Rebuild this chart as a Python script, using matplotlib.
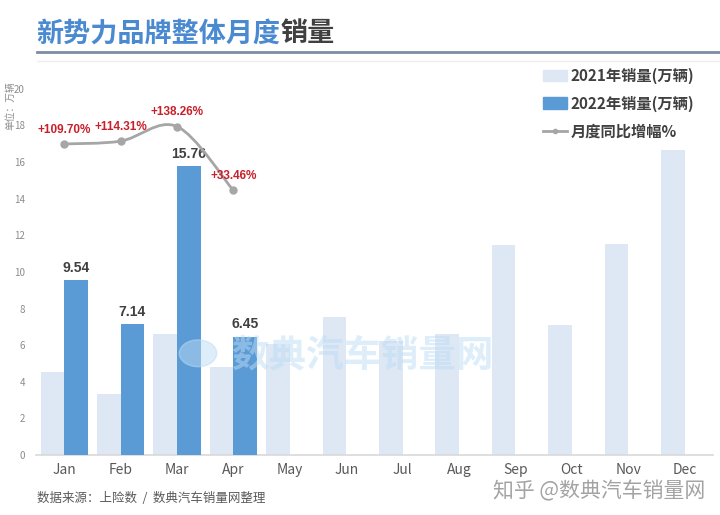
import numpy as np
import matplotlib
matplotlib.use("Agg")
import matplotlib.pyplot as plt
from matplotlib.path import Path
from matplotlib.patches import PathPatch, Patch, Circle
from matplotlib.lines import Line2D

plt.rcParams['font.family'] = ['Noto Sans CJK SC', 'DejaVu Sans']

# data
months = ["Jan", "Feb", "Mar", "Apr", "May", "Jun",
          "Jul", "Aug", "Sep", "Oct", "Nov", "Dec"]
sales_2021 = [4.55, 3.33, 6.61, 4.83, 6.05, 7.56, 6.25, 6.63, 11.46, 7.09, 11.51, 16.65]
sales_2022 = [9.54, 7.14, 15.76, 6.45]
growth_pct = [109.70, 114.31, 138.26, 33.46]
growth_labels = ["+109.70%", "+114.31%", "+138.26%", "+33.46%"]

c21 = "#dde8f4"
c22 = "#5b9bd5"
grey_line = "#a6a6a6"
red = "#c8202a"
dark = "#404040"
latin = ["Liberation Sans", "DejaVu Sans"]

fig = plt.figure(figsize=(7.2, 5.15), dpi=100)
ax = fig.add_axes([0.05, 0.1165, 0.94, 0.711])

x = np.arange(len(months))
w = 0.417
ax.bar(x - w / 2, sales_2021, width=w, color=c21, zorder=2)
x22 = np.arange(len(sales_2022))
bars = ax.bar(x22 + w / 2, sales_2022, width=w, color=c22, zorder=3)
for b, v in zip(bars, sales_2022):
    ax.text(b.get_x() + b.get_width() / 2, v + 0.3, f"{v:.2f}", ha="center", va="bottom",
            fontsize=10, fontweight="bold", color=dark, family=latin, zorder=6)

ax.set_xlim(-0.5, 11.5)
ax.set_ylim(0, 20)
ax.set_yticks(range(0, 21, 2))
ax.set_xticks(x)
ax.set_xticklabels(months)
ax.tick_params(axis="y", length=0, labelsize=7, labelcolor="#8c8c8c", pad=8)
ax.tick_params(axis="x", length=0, labelsize=10, labelcolor="#595959", pad=6)
for s in ["top", "right", "left"]:
    ax.spines[s].set_visible(False)
ax.spines["bottom"].set_color("#d9d9d9")
ax.spines["bottom"].set_linewidth(1.2)

# growth line on hidden secondary axis, smoothed like the Excel original
ax2 = ax.twinx()
ax2.set_ylim(-400, 200)
ax2.axis("off")
pts = np.column_stack([x22, growth_pct])
ext = np.vstack([pts[0], pts, pts[-1]])
verts = [tuple(pts[0])]
codes = [Path.MOVETO]
for i in range(len(pts) - 1):
    p0, p1, p2, p3 = ext[i], ext[i + 1], ext[i + 2], ext[i + 3]
    verts += [tuple(p1 + (p2 - p0) / 6), tuple(p2 - (p3 - p1) / 6), tuple(p2)]
    codes += [Path.CURVE4] * 3
ax2.add_patch(PathPatch(Path(verts, codes), fill=False, edgecolor=grey_line, lw=2, zorder=4))
ax2.plot(x22, growth_pct, "o", color=grey_line, ms=5, zorder=5)
for xi, g, lab in zip(x22, growth_pct, growth_labels):
    ax2.annotate(lab, (xi, g), xytext=(0, 6), textcoords="offset points", ha="center",
                 va="bottom", fontsize=8.5, fontweight="bold", color=red,
                 family=latin, zorder=6)

# watermark
fig.text(0.503, 0.31, "数典汽车销量网", fontsize=27, fontweight="bold", color="#bcdcf5",
         alpha=0.5, ha="center", va="center", zorder=10)
fig.patches.append(Circle((0.275, 0.314), 0.026, transform=fig.transFigure,
                          color="#bcdcf5", alpha=0.5, zorder=10))

# legend
handles = [Patch(color=c21), Patch(color=c22),
           Line2D([0], [0], color=grey_line, lw=2, marker="o", ms=3)]
labels = ["2021年销量(万辆)", "2022年销量(万辆)", "月度同比增幅%"]
leg = fig.legend(handles, labels, loc="upper left", bbox_to_anchor=(0.735, 0.895),
                 frameon=False, handlelength=1.6, handleheight=0.8, handletextpad=0.2,
                 labelspacing=0.75, prop={"weight": "bold", "size": 11})
for t in leg.get_texts():
    t.set_color(dark)

# title (blue part + dark part) and header line
t1 = fig.text(0.051, 0.935, "新势力品牌整体月度", fontsize=19.5, fontweight="bold",
              color="#4a8ad0", va="center")
fig.canvas.draw()
bb = t1.get_window_extent()
fig.text(bb.x1 / fig.bbox.width, 0.935, "销量", fontsize=19.5, fontweight="bold",
         color=dark, va="center")
fig.add_artist(Line2D([0.051, 1.0], [0.899, 0.899], color="#7b8ca5", lw=2))
fig.add_artist(Line2D([0.051, 1.0], [0.882, 0.882], color="#eeeeee", lw=1))

# unit, source, credit
fig.text(0.014, 0.795, "单位：万辆", rotation=90, fontsize=7, color="#8c8c8c",
         ha="center", va="center")
fig.text(0.051, 0.032, "数据来源：上险数  /  数典汽车销量网整理", fontsize=9,
         color="#595959", va="center")
fig.text(0.98, 0.045, "知乎 @数典汽车销量网", fontsize=15, color="#8c8c8c",
         alpha=0.8, ha="right", va="center")

fig.savefig("out.png", dpi=100)
